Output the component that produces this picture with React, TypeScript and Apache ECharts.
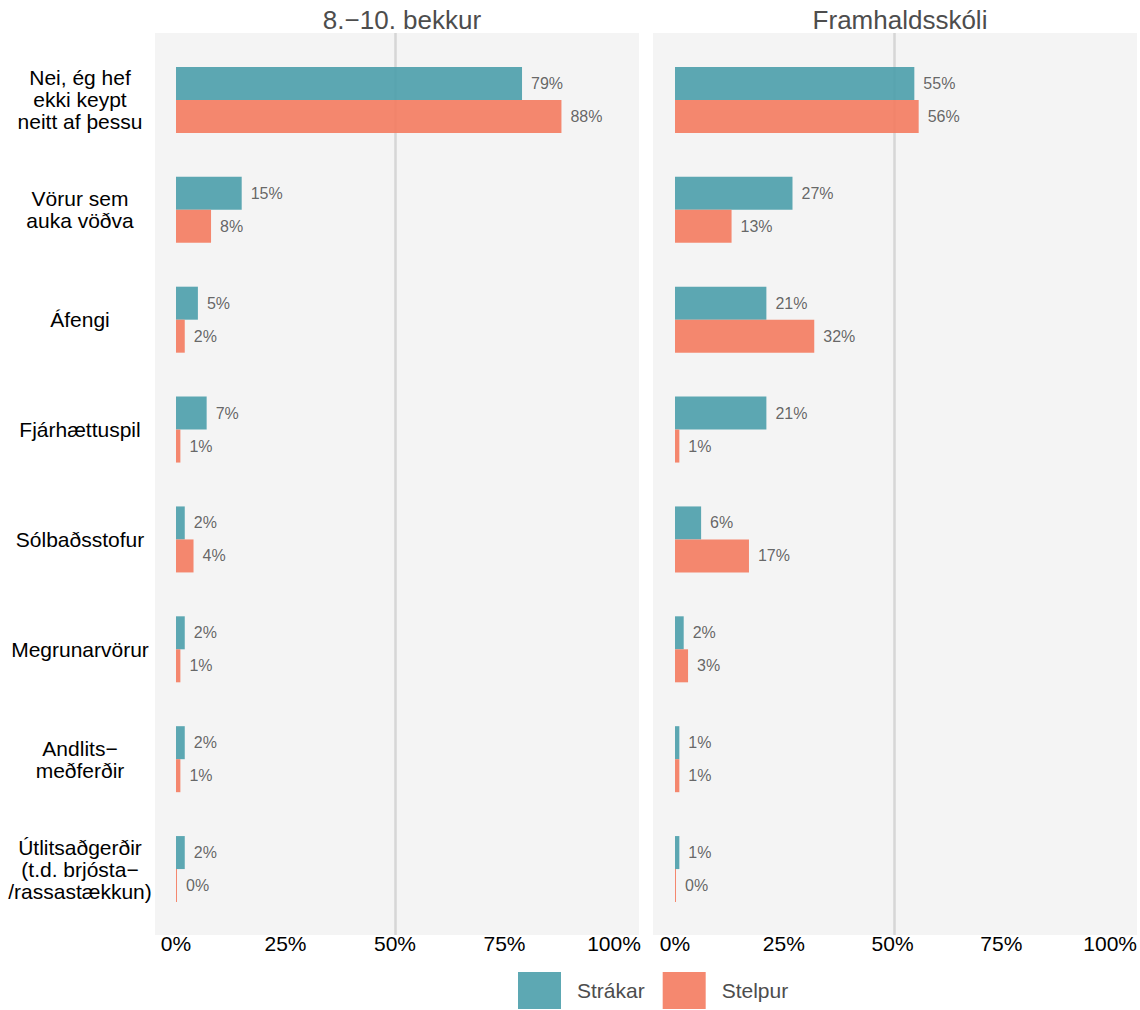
import React, { useEffect, useRef } from "react";
import * as echarts from "echarts";

const categories = [
  "Nei, ég hef\nekki keypt\nneitt af þessu",
  "Vörur sem\nauka vöðva",
  "Áfengi",
  "Fjárhættuspil",
  "Sólbaðsstofur",
  "Megrunarvörur",
  "Andlits−\nmeðferðir",
  "Útlitsaðgerðir\n(t.d. brjósta−\n/rassastækkun)",
];
const panels = ["8.−10. bekkur", "Framhaldsskóli"];
const seriesNames = ["Strákar", "Stelpur"];
const grunnStrakar = [79, 15, 5, 7, 2, 2, 2, 2];
const grunnStelpur = [88, 8, 2, 1, 4, 1, 1, 0];
const frhStrakar = [55, 27, 21, 21, 6, 2, 1, 1];
const frhStelpur = [56, 13, 32, 1, 17, 3, 1, 0];
const xTicks = [0, 25, 50, 75, 100];
const refLine = 50;

const TEAL = "#4B9EAB";
const SALMON = "#F47B5F";
const FONT = "Arial, 'Liberation Sans', Helvetica, sans-serif";

export default function App() {
  const ref = useRef<HTMLDivElement>(null);
  useEffect(() => {
    document.body.style.margin = "0";
    document.body.style.overflow = "hidden";
    if (!ref.current) return;
    const chart = echarts.init(ref.current, null, { renderer: "svg" });
    const gridDefs = [
      { left: 176, width: 438 },
      { left: 675, width: 438 },
    ];
    const bg = [
      { x: 155, w: 484 },
      { x: 653, w: 484 },
    ];
    const data = [
      [grunnStrakar, grunnStelpur],
      [frhStrakar, frhStelpur],
    ];
    const series: any[] = [];
    data.forEach((pair, gi) => {
      pair.forEach((vals, si) => {
        series.push({
          type: "bar",
          name: seriesNames[si],
          xAxisIndex: gi,
          yAxisIndex: gi,
          data: vals,
          barWidth: 33,
          barGap: "0%",
          barMinHeight: 1,
          z: 3,
          itemStyle: { color: si === 0 ? TEAL : SALMON, opacity: 0.9 },
          label: {
            show: true,
            position: "right",
            distance: 9,
            formatter: (p: any) => `${p.value}%`,
            color: "#555555",
            fontSize: 16,
            fontFamily: FONT,
          },
          emphasis: { disabled: true },
        });
      });
      // reference line in a full-height overlay grid
      series.push({
        type: "line",
        xAxisIndex: gi + 2,
        yAxisIndex: gi + 2,
        data: [],
        z: 1,
        silent: true,
        markLine: {
          silent: true,
          symbol: "none",
          label: { show: false },
          lineStyle: { color: "#D6D6D6", width: 2.5, type: "solid" },
          data: [{ xAxis: refLine }],
          z: 1,
        },
      });
    });

    const mainGrids = gridDefs.map((g) => ({ left: g.left, width: g.width, top: 45, height: 879 }));
    const lineGrids = gridDefs.map((g) => ({ left: g.left, width: g.width, top: 33, height: 902 }));

    chart.setOption({
      animation: false,
      textStyle: { fontFamily: FONT },
      title: panels.map((t, i) => ({
        text: t,
        left: bg[i].x + bg[i].w / 2,
        top: 2,
        textAlign: "center",
        textStyle: { fontSize: 26, fontWeight: "normal", color: "#4D4D4D", fontFamily: FONT },
      })),
      graphic: bg.map((b) => ({
        type: "rect",
        z: -10,
        shape: { x: b.x, y: 33, width: b.w, height: 902 },
        style: { fill: "#F4F4F4" },
        silent: true,
      })),
      legend: {
        data: seriesNames,
        left: 518,
        top: 972,
        itemWidth: 43,
        itemHeight: 37,
        itemGap: 18,
        icon: "rect",
        padding: 0,
        textStyle: { fontSize: 21, color: "#4D4D4D", fontFamily: FONT, padding: [0, 0, 0, 11] },
        selectedMode: false,
      },
      grid: [...mainGrids, ...lineGrids],
      xAxis: [0, 1, 2, 3].map((i) => ({
        type: "value",
        gridIndex: i,
        min: xTicks[0],
        max: xTicks[xTicks.length - 1],
        interval: 25,
        show: i < 2,
        axisLine: { show: false },
        axisTick: { show: false },
        splitLine: { show: false },
        axisLabel: {
          show: i < 2,
          formatter: (v: number) => `${v}%`,
          fontSize: 21,
          color: "#000000",
          margin: 9,
          fontFamily: FONT,
        },
      })),
      yAxis: [
        ...gridDefs.map((_, i) => ({
          type: "category",
          gridIndex: i,
          data: categories,
          inverse: true,
          axisLine: { show: false },
          axisTick: { show: false },
          splitLine: { show: false },
          axisLabel: {
            show: i === 0,
            align: "center",
            margin: 96,
            fontSize: 21,
            lineHeight: 22,
            color: "#000000",
            fontFamily: FONT,
          },
        })),
        ...gridDefs.map((_, i) => ({
          type: "value",
          gridIndex: i + 2,
          min: 0,
          max: 1,
          show: false,
        })),
      ],
      series,
    });
    return () => chart.dispose();
  }, []);
  return <div ref={ref} style={{ width: 1140, height: 1010 }} />;
}
